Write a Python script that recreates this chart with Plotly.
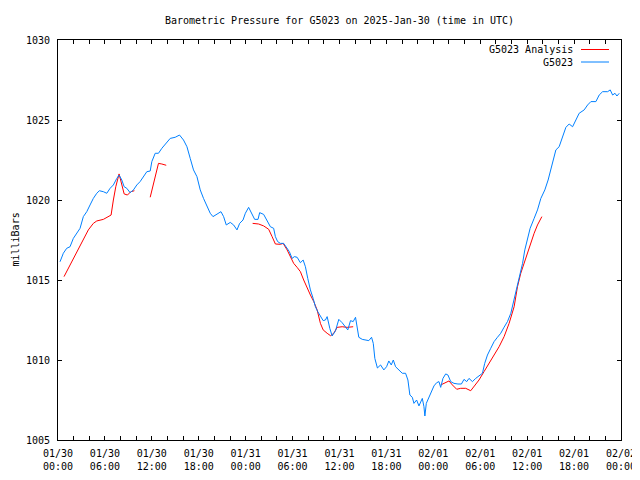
import pandas as pd
import plotly.graph_objects as go

START = pd.Timestamp("2025-01-30 00:00")

# Observed station pressure (hours after 2025-01-30 00:00 UTC, mbar)
obs_hours = [0.26, 0.68, 1.11, 1.54, 1.96, 2.40, 2.82, 3.24, 3.68, 4.10, 4.52, 4.96, 5.29, 5.80,
             6.24, 6.66, 7.08, 7.52, 7.81, 8.16, 8.46, 8.80, 9.22, 9.65, 10.08, 10.50, 10.93,
             11.36, 11.79, 12.00, 12.43, 12.85, 13.28, 13.93, 14.35, 14.99, 15.54, 16.05, 16.49,
             16.91, 17.33, 17.77, 18.19, 18.61, 19.05, 19.47, 19.82, 20.33, 20.84, 21.18, 21.52,
             22.03, 22.46, 22.89, 23.23, 23.66, 23.96, 24.38, 24.81, 25.15, 25.58, 25.79, 26.30,
             26.74, 27.16, 27.58, 27.80, 28.09, 28.44, 28.86, 29.30, 29.59, 29.94, 30.23, 30.58,
             31.00, 31.35, 31.64, 31.94, 32.28, 32.63, 32.92, 33.22, 33.56, 33.91, 34.20, 34.42,
             34.76, 35.06, 35.49, 35.91, 36.34, 36.77, 37.06, 37.41, 37.75, 38.05, 38.27, 38.47,
             38.91, 39.33, 39.75, 40.10, 40.32, 40.52, 40.85, 41.25, 41.67, 42.02, 42.31, 42.62,
             42.88, 43.17, 43.59, 44.03, 44.45, 44.75, 45.00, 45.31, 45.52, 45.86, 46.16, 46.59,
             46.80, 46.92, 47.10, 47.44, 47.75, 48.08, 48.42, 48.72, 48.94, 49.23, 49.58, 49.87,
             50.22, 50.64, 51.15, 51.59, 51.92, 52.27, 52.56, 53.00, 53.42, 53.84, 54.28, 54.57,
             54.92, 55.34, 55.77, 56.20, 56.62, 57.05, 57.48, 57.91, 58.20, 58.55, 58.97, 59.41,
             59.70, 60.04, 60.38, 60.89, 61.32, 61.75, 62.26, 62.68, 63.03, 63.38, 63.67, 64.09,
             64.53, 64.95, 65.37, 65.81, 66.23, 66.65, 67.29, 67.73, 68.15, 68.79, 69.21, 69.65,
             70.29, 70.62, 70.93, 71.23, 71.48, 71.78]
obs_mbar = [1016.14, 1016.67, 1016.98, 1017.08, 1017.60, 1017.90, 1018.23, 1018.96, 1019.27,
            1019.69, 1020.10, 1020.42, 1020.58, 1020.52, 1020.42, 1020.73, 1020.94, 1021.35,
            1021.56, 1021.25, 1020.83, 1020.73, 1020.46, 1020.63, 1020.94, 1021.15, 1021.46,
            1021.77, 1021.81, 1022.40, 1022.92, 1022.92, 1023.23, 1023.65, 1023.85, 1023.92,
            1024.06, 1023.75, 1023.33, 1022.60, 1021.88, 1021.46, 1020.63, 1020.10, 1019.58,
            1019.17, 1018.96, 1019.13, 1019.27, 1018.96, 1018.44, 1018.60, 1018.44, 1018.13,
            1018.54, 1018.75, 1019.17, 1019.54, 1019.17, 1018.79, 1018.79, 1019.21, 1019.10,
            1018.75, 1018.33, 1018.23, 1017.71, 1017.40, 1017.29, 1017.29, 1016.98, 1016.77,
            1016.35, 1016.46, 1016.42, 1016.08, 1016.25, 1015.83, 1015.10, 1014.38, 1013.85,
            1013.33, 1013.02, 1012.71, 1012.46, 1012.50, 1012.71, 1011.98, 1011.50, 1011.83,
            1012.54, 1012.33, 1012.08, 1011.88, 1012.46, 1012.40, 1012.67, 1011.98, 1011.42,
            1011.29, 1011.25, 1011.21, 1011.42, 1011.04, 1010.10, 1009.50, 1009.69, 1009.38,
            1009.58, 1009.94, 1009.69, 1010.00, 1009.58, 1009.38, 1009.17, 1009.17, 1008.75,
            1007.81, 1007.67, 1007.29, 1007.50, 1007.13, 1007.60, 1007.08, 1006.50, 1007.29,
            1007.71, 1008.02, 1008.38, 1008.58, 1008.65, 1008.29, 1008.85, 1009.13, 1009.06,
            1008.65, 1008.54, 1008.50, 1008.50, 1008.79, 1008.65, 1008.85, 1008.65, 1008.85,
            1009.00, 1009.17, 1009.79, 1010.31, 1010.73, 1011.15, 1011.42, 1011.67, 1012.05,
            1012.40, 1012.92, 1013.50, 1014.38, 1015.21, 1016.04, 1016.88, 1017.50, 1018.23,
            1018.85, 1019.38, 1020.10, 1020.63, 1021.25, 1021.88, 1022.50, 1023.13, 1023.33,
            1023.96, 1024.54, 1024.75, 1024.58, 1025.00, 1025.42, 1025.63, 1025.94, 1026.15,
            1026.15, 1026.56, 1026.77, 1026.77, 1026.88, 1026.56, 1026.67, 1026.50, 1026.67]

# Analysis pressure (None = gap between analysis segments)
ana_hours = [0.77, 1.32, 1.96, 2.60, 3.24, 3.88, 4.52, 4.96, 5.80, 6.44, 6.79, 7.08, 7.39, 7.81,
             8.16, 8.46, 8.88, 9.31, 9.77, None,
             11.79, 12.30, 12.85, 13.28, 13.84, None,
             24.89, 25.66, 26.30, 26.94, 27.38, 27.80, 28.44, 28.79, 29.30, 29.72, 30.14, 30.58,
             31.00, 31.42, 31.86, 32.28, 32.71, 33.14, 33.56, 33.91, 34.42, 34.85, 35.27, 35.70,
             36.34, 36.98, 37.75, None,
             48.94, 49.58, 50.00, 50.44, 50.99, 51.50, 52.14, 52.78, 53.20, 53.84, 54.48, 55.12,
             55.77, 56.41, 57.05, 57.69, 58.33, 58.76, 59.18, 59.61, 60.04, 60.47, 60.89, 61.32,
             61.88]
ana_mbar = [1015.21, 1015.73, 1016.35, 1016.98, 1017.60, 1018.13, 1018.54, 1018.69, 1018.79,
            1018.96, 1019.06, 1020.00, 1020.83, 1021.63, 1020.94, 1020.38, 1020.31, 1020.52,
            1020.58, None,
            1020.17, 1021.25, 1022.29, 1022.25, 1022.17, None,
            1018.54, 1018.50, 1018.38, 1018.17, 1017.71, 1017.25, 1017.23, 1017.29, 1016.88,
            1016.46, 1016.04, 1015.79, 1015.52, 1015.00, 1014.48, 1014.06, 1013.65, 1013.13,
            1012.29, 1011.88, 1011.67, 1011.52, 1011.67, 1012.04, 1012.08, 1012.04, 1012.08, None,
            1008.44, 1008.58, 1008.69, 1008.44, 1008.17, 1008.23, 1008.23, 1008.08, 1008.33,
            1008.75, 1009.27, 1009.79, 1010.31, 1010.83, 1011.46, 1012.29, 1013.33, 1014.58,
            1015.42, 1016.04, 1016.77, 1017.29, 1017.92, 1018.44, 1018.96]

x_tick_hours = [0, 6, 12, 18, 24, 30, 36, 42, 48, 54, 60, 66, 72]
y_range = [1005, 1030]
series_names = ["G5023 Analysis", "G5023"]
series_colors = ["#ff0000", "#0080ff"]


def to_time(hours):
    return [None if h is None else START + pd.Timedelta(hours=h) for h in hours]


tick_times = to_time(x_tick_hours)
tick_text = [t.strftime("%m/%d") + "<br>" + t.strftime("%H:%M") for t in tick_times]

FONT = "DejaVu Sans Mono"
W, H = 632, 472          # page adds an 8px body margin on top/left
ML, MR, MT, MB = 50, 19, 32, 40
PW = W - ML - MR
PH = H - MT - MB

fig = go.Figure()
fig.add_trace(go.Scatter(x=to_time(ana_hours), y=ana_mbar, mode="lines", name=series_names[0],
                         line=dict(color=series_colors[0], width=1), connectgaps=False))
fig.add_trace(go.Scatter(x=to_time(obs_hours), y=obs_mbar, mode="lines", name=series_names[1],
                         line=dict(color=series_colors[1], width=1)))

fig.update_layout(
    width=W, height=H,
    margin=dict(l=ML, r=MR, t=MT, b=MB, autoexpand=False),
    paper_bgcolor="white", plot_bgcolor="white",
    showlegend=False,
    font=dict(family=FONT, size=10, color="black"),
    title=dict(text="Barometric Pressure for G5023 on 2025-Jan-30 (time in UTC)",
               x=0.5, xref="paper", y=1 - 12 / H, yanchor="middle",
               font=dict(family=FONT, size=10, color="black")),
)

fig.update_xaxes(
    range=[tick_times[0], tick_times[-1]],
    tickvals=tick_times, ticktext=tick_text,
    ticks="inside", ticklen=4, tickcolor="black",
    minor=dict(dtick=2 * 3600 * 1000, tick0=tick_times[0], ticks="inside", ticklen=4,
               tickcolor="black", showgrid=False),
    showline=True, linecolor="black", linewidth=1, mirror="ticks",
    showgrid=False, zeroline=False, automargin=False,
    ticklabelstandoff=4,
    tickfont=dict(family=FONT, size=10, color="black"),
)
fig.update_yaxes(
    range=y_range, dtick=5, tick0=1005,
    ticks="inside", ticklen=4, tickcolor="black",
    showline=True, linecolor="black", linewidth=1, mirror="ticks",
    showgrid=False, zeroline=False, automargin=False,
    ticklabelstandoff=5,
    tickfont=dict(family=FONT, size=10, color="black"),
)

# y-axis title
fig.add_annotation(text="milliBars", xref="paper", yref="paper",
                   x=-ML / PW, y=0.5, textangle=-90, showarrow=False,
                   xanchor="left", yanchor="middle", borderpad=0,
                   font=dict(family=FONT, size=10, color="black"))

# gnuplot-style legend (text right-aligned, sample line to the right)
for i, (name, color) in enumerate(zip(series_names, series_colors)):
    off = 9.5 + 12.5 * i
    yp = 1 - off / PH
    fig.add_annotation(text=name, xref="paper", yref="paper",
                       x=(575 - 58) / PW, y=yp, xanchor="right", yanchor="middle",
                       showarrow=False, font=dict(family=FONT, size=10, color="black"))
    fig.add_shape(type="line", xref="paper", yref="paper",
                  x0=(581 - 58) / PW, x1=(609 - 58) / PW, y0=yp, y1=yp,
                  line=dict(color=color, width=1))

fig.write_html("out.html")
